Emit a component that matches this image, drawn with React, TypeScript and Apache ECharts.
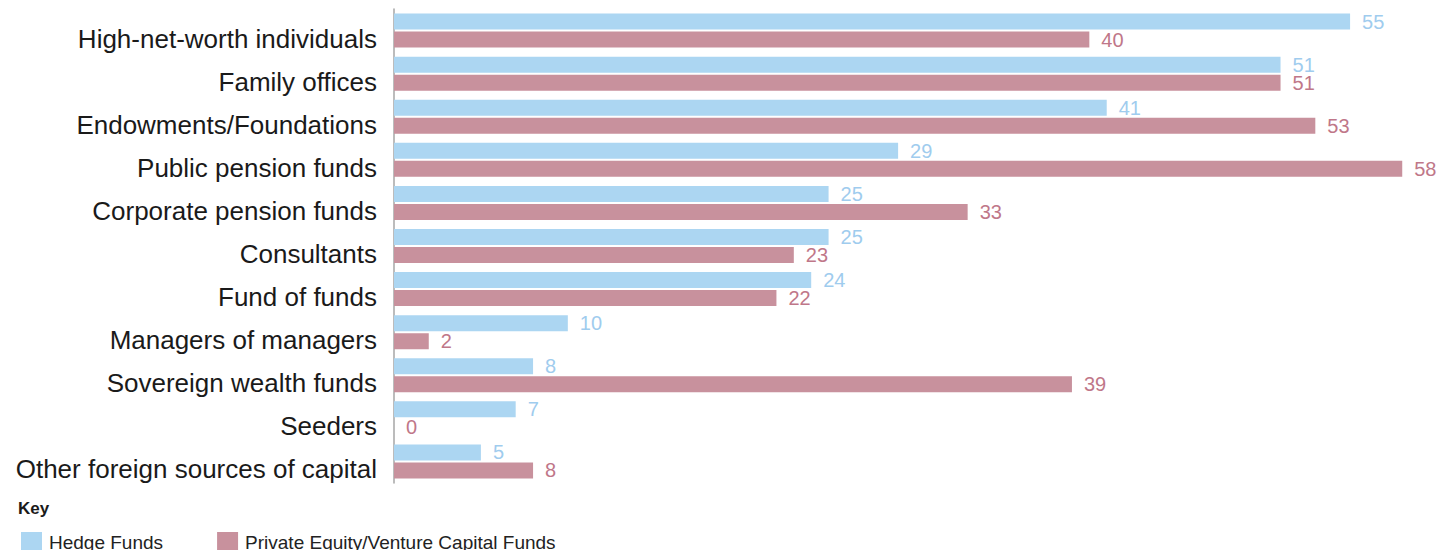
import React, { useEffect, useRef } from "react";
import * as echarts from "echarts";

const categories = [
  "High-net-worth individuals",
  "Family offices",
  "Endowments/Foundations",
  "Public pension funds",
  "Corporate pension funds",
  "Consultants",
  "Fund of funds",
  "Managers of managers",
  "Sovereign wealth funds",
  "Seeders",
  "Other foreign sources of capital",
];
const hedgeFunds = [55, 51, 41, 29, 25, 25, 24, 10, 8, 7, 5];
const privateEquity = [40, 51, 53, 58, 33, 23, 22, 2, 39, 0, 8];
const seriesNames = ["Hedge Funds", "Private Equity/Venture Capital Funds"];

const FONT = "'Liberation Sans', Arial, sans-serif";
const BLUE = "#acd6f2";
const PINK = "#c8919d";
const BLUE_TXT = "#9fccee";
const PINK_TXT = "#bf7789";

export default function App() {
  const ref = useRef<HTMLDivElement>(null);
  useEffect(() => {
    if (!ref.current) return;
    const chart = echarts.init(ref.current, undefined, { renderer: "svg" });
    chart.setOption({
      animation: false,
      textStyle: { fontFamily: FONT },
      title: {
        text: "Key",
        left: 18,
        top: 500,
        padding: 0,
        textStyle: { fontSize: 17, fontWeight: "bold", color: "#1a1a1a", fontFamily: FONT },
      },
      legend: {
        data: seriesNames,
        left: 21,
        top: 532,
        padding: 0,
        itemWidth: 21,
        itemHeight: 21,
        itemGap: 54,
        icon: "rect",
        textStyle: { fontSize: 19, color: "#222", fontFamily: FONT, padding: [0, 0, 0, 2] },
      },
      grid: { left: 394, right: 18, top: 9, height: 474, containLabel: false },
      xAxis: {
        type: "value",
        min: 0,
        max: 60,
        show: false,
        splitLine: { show: false },
      },
      yAxis: {
        type: "category",
        data: categories,
        inverse: true,
        axisLine: { show: true, lineStyle: { color: "#a6a6a6", width: 1.5 } },
        axisTick: { show: false },
        axisLabel: {
          margin: 17,
          formatter: (v: string) => "{c|" + v + "}",
          rich: {
            c: {
              fontSize: 26,
              color: "#1a1a1a",
              fontFamily: FONT,
              padding: [16, 0, 0, 0],
            },
          },
        },
      },
      series: [
        {
          name: seriesNames[0],
          type: "bar",
          data: hedgeFunds,
          barWidth: 16,
          barGap: "12.5%",
          itemStyle: { color: BLUE },
          label: {
            show: true,
            position: "right",
            distance: 12,
            fontSize: 20,
            color: BLUE_TXT,
            fontFamily: FONT,
          },
        },
        {
          name: seriesNames[1],
          type: "bar",
          data: privateEquity,
          barWidth: 16,
          barGap: "12.5%",
          itemStyle: { color: PINK },
          label: {
            show: true,
            position: "right",
            distance: 12,
            fontSize: 20,
            color: PINK_TXT,
            fontFamily: FONT,
          },
        },
      ],
    });
    return () => chart.dispose();
  }, []);
  return (
    <div
      ref={ref}
      style={{ position: "fixed", left: 0, top: 0, width: 1455, height: 550, background: "#fff" }}
    />
  );
}
